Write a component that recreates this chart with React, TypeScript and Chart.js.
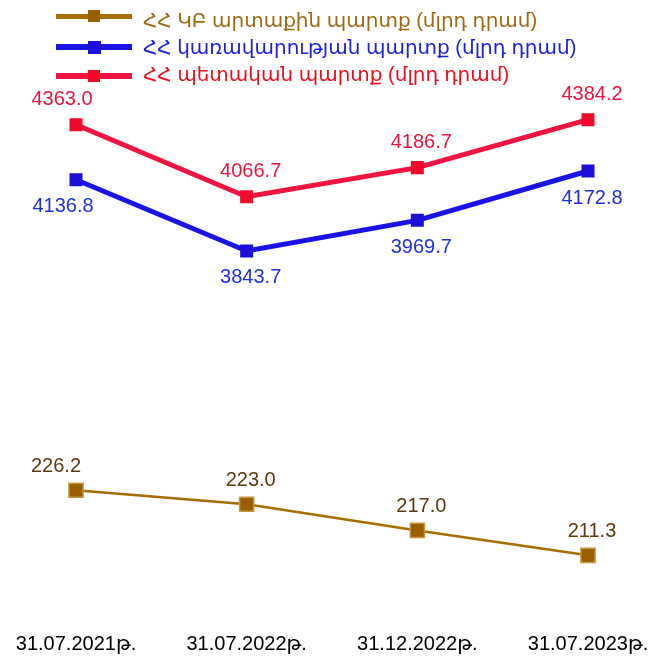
import React, { useEffect, useRef } from "react";
import { Chart, registerables } from "chart.js";

Chart.register(...registerables);

const categories = ["31.07.2021թ.", "31.07.2022թ.", "31.12.2022թ.", "31.07.2023թ."];
const externalDebt = [226.2, 223.0, 217.0, 211.3];
const governmentDebt = [4136.8, 3843.7, 3969.7, 4172.8];
const publicDebt = [4363.0, 4066.7, 4186.7, 4384.2];
const seriesNames = [
  "ՀՀ ԿԲ արտաքին պարտք (մլրդ դրամ)",
  "ՀՀ կառավարության պարտք (մլրդ դրամ)",
  "ՀՀ պետական պարտք (մլրդ դրամ)",
];

const FONT = '"Liberation Sans", Arial, "DejaVu Sans", sans-serif';

const BROWN = "#a66d00";
const BLUE = "#1a12e6";
const RED = "#f01440";

const labelPlugin = {
  id: "pointLabels",
  afterDatasetsDraw(chart: any) {
    const ctx = chart.ctx;
    const cfg = [
      { color: "#5c3a10", dy: -24, firstDx: -20 },
      { color: "#2030e0", dy: 27, firstDx: -13 },
      { color: "#e8163f", dy: -25, firstDx: -14 },
    ];
    ctx.save();
    ctx.font = "20px " + FONT;
    ctx.textAlign = "center";
    ctx.textBaseline = "middle";
    chart.data.datasets.forEach((ds: any, i: number) => {
      const meta = chart.getDatasetMeta(i);
      meta.data.forEach((pt: any, j: number) => {
        const c = cfg[i];
        ctx.fillStyle = c.color;
        const dx = j === 0 ? c.firstDx : 4;
        ctx.fillText(Number(ds.data[j]).toFixed(1), pt.x + dx, pt.y + c.dy);
      });
    });
    ctx.restore();
  },
};

function LegendRow(props: { y: number; textY: number; color: string; textColor: string; lineH: number; marker: number; markerColor: string; text: string }) {
  const { y, textY, color, textColor, lineH, marker, markerColor, text } = props;
  return (
    <>
      <div style={{ position: "absolute", left: 56, top: y - lineH / 2, width: 76, height: lineH, background: color }} />
      <div style={{ position: "absolute", left: 94 - marker / 2, top: y - marker / 2, width: marker, height: marker, background: markerColor }} />
      <div
        style={{
          position: "absolute",
          left: 143,
          top: textY - 12,
          height: 24,
          lineHeight: "24px",
          fontSize: 20,
          fontFamily: FONT,
          color: textColor,
          whiteSpace: "nowrap",
        }}
      >
        {text}
      </div>
    </>
  );
}

export default function App() {
  const ref = useRef<HTMLCanvasElement>(null);

  useEffect(() => {
    if (!ref.current) return;
    const chart = new Chart(ref.current, {
      type: "line",
      data: {
        labels: categories,
        datasets: [
          {
            label: seriesNames[0],
            data: externalDebt,
            yAxisID: "y2",
            borderColor: BROWN,
            borderWidth: 2.5,
            backgroundColor: "#9a5f00",
            pointStyle: "rect",
            pointRadius: 10,
            pointBorderColor: "#c8963c",
            pointBorderWidth: 1.5,
            tension: 0,
          },
          {
            label: seriesNames[1],
            data: governmentDebt,
            yAxisID: "y",
            borderColor: BLUE,
            borderWidth: 5,
            backgroundColor: "#1c10d8",
            pointStyle: "rect",
            pointRadius: 9.2,
            pointBorderWidth: 0,
            tension: 0,
          },
          {
            label: seriesNames[2],
            data: publicDebt,
            yAxisID: "y",
            borderColor: RED,
            borderWidth: 5,
            backgroundColor: "#ee0a28",
            pointStyle: "rect",
            pointRadius: 9.2,
            pointBorderWidth: 0,
            tension: 0,
          },
        ],
      },
      options: {
        responsive: false,
        animation: false,
        devicePixelRatio: 1,
        layout: { padding: { top: 100, left: 76, right: 68, bottom: 2 } },
        plugins: {
          legend: { display: false },
          tooltip: { enabled: false },
        },
        scales: {
          x: {
            offset: false,
            grid: { display: false, drawTicks: false },
            border: { display: false },
            afterFit: (scale: any) => {
              scale.height = 36;
              scale.paddingLeft = 0;
              scale.paddingRight = 0;
            },
            ticks: {
              color: "#000",
              font: { family: FONT, size: 20 },
              padding: 12,
              maxRotation: 0,
              autoSkip: false,
            },
          },
          y: { display: false, min: 2325, max: 4465 },
          y2: { display: false, position: "right", min: 196.5, max: 315.5 },
        },
      },
      plugins: [labelPlugin],
    });
    return () => chart.destroy();
  }, []);

  return (
    <div style={{ position: "fixed", left: 0, top: 0, width: 656, height: 658, background: "#fff", overflow: "hidden" }}>
      <canvas ref={ref} width={656} height={658} style={{ position: "absolute", left: 0, top: 0 }} />
      <LegendRow y={16} textY={20} color={BROWN} textColor="#9c6a10" lineH={5} marker={12} markerColor="#9a5f00" text={seriesNames[0]} />
      <LegendRow y={47} textY={47} color={BLUE} textColor="#1a22e0" lineH={6} marker={13} markerColor="#1c10d8" text={seriesNames[1]} />
      <LegendRow y={76} textY={74} color={RED} textColor="#e8101e" lineH={6} marker={12} markerColor="#ee0a28" text={seriesNames[2]} />
    </div>
  );
}
